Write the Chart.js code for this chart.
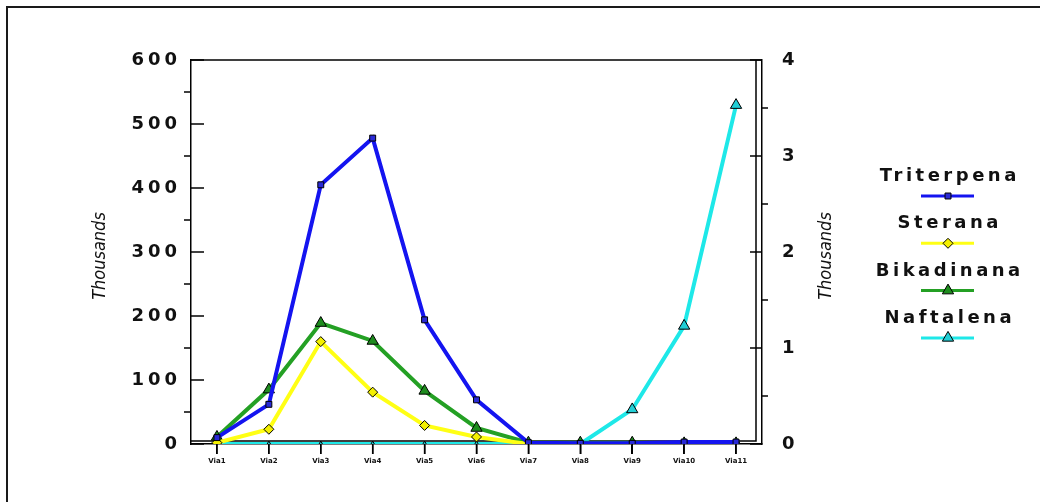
<!DOCTYPE html>
<html>
<head>
<meta charset="utf-8">
<title>Triterpena, Sterana, Bikadinana, Naftalena</title>
<script src="https://cdn.jsdelivr.net/npm/chart.js@4.4.1/dist/chart.umd.min.js"></script>
<style>
  html, body { margin: 0; padding: 0; background: #fff; }
  canvas { display: block; background: #fff; }
</style>
</head>
<body>
<canvas id="grafikBiomarker" width="1040" height="502"></canvas>
<script>
// data per sampel (Via1..Via11), dalam ribuan
const kategori = ['Via1', 'Via2', 'Via3', 'Via4', 'Via5', 'Via6', 'Via7', 'Via8', 'Via9', 'Via10', 'Via11'];
const triterpena = [10, 62, 405, 478, 194, 69, 2, 1, 1, 3, 3];
const sterana = [2, 23, 160, 81, 29, 11, 0, 0, 0, 0, 0];
const bikadinana = [11, 85, 189, 161, 83, 25, 2, 2, 2, 1, 1];
// naftalena pakai sumbu kanan
const naftalena = [0, 0, 0, 0, 0, 0, 0, 0, 0.36, 1.23, 3.53];

const tickKiri = [0, 100, 200, 300, 400, 500, 600];
const tickKanan = [0, 1, 2, 3, 4];
const judulSumbu = 'Thousands';

const FONT_ANGKA = 'bold 18px "DejaVu Sans", sans-serif';
const FONT_LEGENDA = 'bold 18px "DejaVu Sans", sans-serif';
const FONT_JUDUL = 'italic 18px "Liberation Sans Narrow", "DejaVu Sans Condensed", sans-serif';

// titik tengah antar tick utama -> tick kecil
function tickKecil(arr) {
    let hasil = [];
    for (let i = 0; i < arr.length - 1; i++) hasil.push((arr[i] + arr[i + 1]) / 2);
    return hasil;
}

function garis(ctx, x1, y1, x2, y2) {
    ctx.beginPath();
    ctx.moveTo(x1, y1);
    ctx.lineTo(x2, y2);
    ctx.stroke();
}

const dekorasi = {
    id: 'dekorasi',
    beforeDatasetsDraw(chart) {
        const ctx = chart.ctx;
        const a = chart.chartArea;
        const sy = chart.scales.y, sy1 = chart.scales.y1;
        ctx.save();
        ctx.strokeStyle = '#000';
        ctx.lineWidth = 1.5;

        // bingkai dalam area plot
        ctx.beginPath();
        ctx.moveTo(a.left, a.top);
        ctx.lineTo(a.right, a.top);
        ctx.moveTo(a.right - 6, a.top);
        ctx.lineTo(a.right - 6, a.bottom - 3);
        ctx.lineTo(a.left, a.bottom - 3);
        ctx.stroke();

        // tick sumbu kiri: utama ke dalam, kecil ke luar
        tickKiri.forEach(v => {
            const py = sy.getPixelForValue(v);
            garis(ctx, a.left, py, a.left + 13, py);
        });
        tickKecil(tickKiri).forEach(v => {
            const py = sy.getPixelForValue(v);
            garis(ctx, a.left - 7, py, a.left, py);
        });

        // tick sumbu kanan
        tickKanan.forEach(v => {
            const py = sy1.getPixelForValue(v);
            garis(ctx, a.right - 12, py, a.right, py);
        });
        tickKecil(tickKanan).forEach(v => {
            const py = sy1.getPixelForValue(v);
            garis(ctx, a.right, py, a.right + 6, py);
        });
        ctx.restore();
    },
    afterDraw(chart) {
        const ctx = chart.ctx;
        const a = chart.chartArea;
        const sx = chart.scales.x, sy = chart.scales.y, sy1 = chart.scales.y1;
        ctx.save();

        // tick kategori di bawah sumbu x
        ctx.fillStyle = '#000';
        sx.ticks.forEach((t, i) => {
            const px = sx.getPixelForTick(i);
            ctx.fillRect(px - 0.75, sx.top, 1.5, 10);
        });

        // label angka sumbu
        ctx.fillStyle = '#111';
        ctx.font = FONT_ANGKA;
        ctx.letterSpacing = '4px';
        ctx.textBaseline = 'middle';
        ctx.textAlign = 'right';
        tickKiri.forEach(v => ctx.fillText(String(v), a.left - 14 + 4, sy.getPixelForValue(v)));
        ctx.textAlign = 'left';
        tickKanan.forEach(v => ctx.fillText(String(v), a.right + 20, sy1.getPixelForValue(v)));

        // judul sumbu (dua-duanya dibaca dari bawah ke atas)
        ctx.letterSpacing = '0px';
        ctx.font = FONT_JUDUL;
        ctx.textAlign = 'center';
        const tengahY = (a.top + a.bottom) / 2 + 4;
        [a.left - 91, a.right + 64].forEach(tx => {
            ctx.save();
            ctx.translate(tx, tengahY);
            ctx.rotate(-Math.PI / 2);
            ctx.fillText(judulSumbu, 0, 0);
            ctx.restore();
        });

        // legenda: nama di atas, contoh garis + penanda di bawah
        const cx = a.right + 186;
        chart.data.datasets.forEach((ds, i) => {
            const base = 181 + i * 47.3;
            ctx.font = FONT_LEGENDA;
            ctx.letterSpacing = '3.5px';
            ctx.textAlign = 'center';
            ctx.textBaseline = 'alphabetic';
            ctx.fillStyle = '#111';
            ctx.fillText(ds.label, cx + 1.75, base);
            ctx.letterSpacing = '0px';

            const ly = base + 15;
            ctx.strokeStyle = ds.borderColor;
            ctx.lineWidth = 3;
            garis(ctx, cx - 27, ly, cx + 26, ly);

            ctx.fillStyle = ds.pointBackgroundColor;
            ctx.strokeStyle = '#000';
            ctx.lineWidth = 1;
            Chart.helpers.drawPoint(ctx, {
                pointStyle: ds.pointStyle,
                radius: ds.ukuranLegenda,
                rotation: 0,
                borderWidth: 1
            }, cx, ly);
        });

        // garis tepi luar
        ctx.strokeStyle = '#1a1a1a';
        ctx.lineWidth = 2;
        ctx.beginPath();
        ctx.moveTo(7, chart.height);
        ctx.lineTo(7, 7);
        ctx.lineTo(chart.width, 7);
        ctx.stroke();
        ctx.restore();
    }
};

function seri(label, data, warna, isiTitik, bentuk, radius, sumbu) {
    return {
        label: label,
        data: data,
        yAxisID: sumbu,
        borderColor: warna,
        backgroundColor: warna,
        borderWidth: 4,
        tension: 0,
        pointStyle: bentuk,
        // penanda di nol hampir tertutup sumbu
        pointRadius: c => (c.raw === 0 ? radius * 0.45 : radius),
        ukuranLegenda: radius,
        pointBackgroundColor: isiTitik,
        pointBorderColor: '#000',
        pointBorderWidth: 1
    };
}

const canvas = document.getElementById('grafikBiomarker');

new Chart(canvas, {
    type: 'line',
    data: {
        labels: kategori,
        datasets: [
            seri('Triterpena', triterpena, '#1414f0', '#2a2ad6', 'rect', 4.2, 'y'),
            seri('Sterana', sterana, '#ffff14', '#f4f000', 'rectRot', 5, 'y'),
            seri('Bikadinana', bikadinana, '#24a024', '#1e8c1e', 'triangle', 6.5, 'y'),
            seri('Naftalena', naftalena, '#1ee8e8', '#22cfd6', 'triangle', 6.5, 'y1')
        ]
    },
    options: {
        responsive: false,
        animation: false,
        events: [],
        layout: { padding: { top: 60, left: 0, right: 198, bottom: 28 } },
        plugins: {
            legend: { display: false },
            tooltip: { enabled: false }
        },
        scales: {
            x: {
                offset: true,
                grid: {
                    display: true,
                    drawOnChartArea: false,
                    drawTicks: true,
                    tickLength: 10,
                    color: '#000',
                    lineWidth: 1.5,
                    offset: false
                },
                border: { display: true, color: '#000', width: 1.5 },
                ticks: {
                    font: { family: 'DejaVu Sans', size: 7, weight: 'bold' },
                    color: '#111',
                    padding: 3,
                    maxRotation: 0,
                    autoSkip: false
                },
                afterFit(s) { s.height = 30; }
            },
            y: {
                position: 'left',
                min: 0,
                max: 600,
                ticks: { stepSize: 100, display: false },
                grid: { display: false, drawTicks: false },
                border: { display: true, color: '#000', width: 1.5 },
                afterFit(s) { s.width = 191; }
            },
            y1: {
                position: 'right',
                min: 0,
                max: 4,
                ticks: { stepSize: 1, display: false },
                grid: { display: false, drawTicks: false },
                border: { display: true, color: '#000', width: 1.5 },
                afterFit(s) { s.width = 80; }
            }
        }
    },
    plugins: [dekorasi]
});
</script>
</body>
</html>
